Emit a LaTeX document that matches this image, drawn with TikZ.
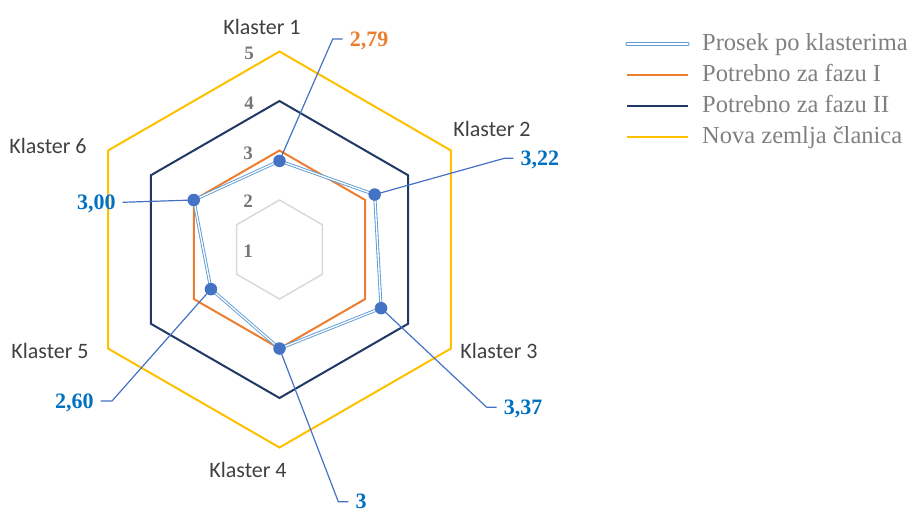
\documentclass[tikz,border=0pt]{standalone}
\usepackage{fontspec}
\setmainfont{Liberation Serif}
\newfontfamily\klfont{Carlito}
\definecolor{cyel}{HTML}{FFC000}
\definecolor{cnavy}{HTML}{203864}
\definecolor{corange}{HTML}{ED7D31}
\definecolor{cblue}{HTML}{5B9BD5}
\definecolor{cdot}{HTML}{4472C4}
\definecolor{cval}{HTML}{0070C0}
\definecolor{cgrid}{HTML}{D9D9D9}
\definecolor{ctext}{HTML}{404040}
\definecolor{caxis}{HTML}{767676}
\definecolor{clegt}{HTML}{808080}
\begin{document}
\begin{tikzpicture}[x=1pt,y=-1pt,
  gridline/.style={draw=cgrid,line width=1.5pt,line join=miter},
  yelline/.style={draw=cyel,line width=2pt,line join=miter},
  navyline/.style={draw=cnavy,line width=2pt,line join=miter},
  orline/.style={draw=corange,line width=2pt,line join=miter},
  series/.style={draw=cblue,line width=0.9pt,double=white,double distance=1.3pt,line join=round},
  leader/.style={draw=cdot,line width=1.2pt},
  dotmark/.style={circle,fill=cdot,inner sep=0pt,minimum size=12.5pt},
  kl/.style={font=\klfont\fontsize{22}{26}\selectfont,text=ctext,inner sep=0pt},
  axisnum/.style={font=\bfseries\fontsize{19}{22}\selectfont,text=caxis,inner sep=0pt},
  val/.style={font=\bfseries\fontsize{22}{25}\selectfont,text=cval,inner xsep=7pt,inner ysep=0pt,text depth=0pt},
  legt/.style={font=\fontsize{24.5}{28}\selectfont,text=clegt,inner sep=0pt,anchor=base west},
]
\useasboundingbox (0,0) rectangle (910,509);
\begin{scope}[shift={(279.5,249.5)}]
  % grid and reference hexagons
  \draw[gridline] (-90:49.5) -- (-30:49.5) -- (30:49.5) -- (90:49.5) -- (150:49.5) -- (210:49.5) -- cycle;
  \draw[yelline] (-90:198) -- (-30:198) -- (30:198) -- (90:198) -- (150:198) -- (210:198) -- cycle;
  \draw[navyline] (-90:148.5) -- (-30:148.5) -- (30:148.5) -- (90:148.5) -- (150:148.5) -- (210:148.5) -- cycle;
  \draw[orline] (-90:99) -- (-30:99) -- (30:99) -- (90:99) -- (150:99) -- (210:99) -- cycle;
  % data
  \coordinate (d1) at (-90:88.6);
  \coordinate (d2) at (-30:109.9);
  \coordinate (d3) at (30:117.3);
  \coordinate (d4) at (90:99);
  \coordinate (d5) at (150:79.2);
  \coordinate (d6) at (210:99);
  \draw[series] (d1) -- (d2) -- (d3) -- (d4) -- (d5) -- (d6) -- cycle;
\end{scope}
% axis numbers
\node[axisnum] (a5) at (249,53) {5};
\node[axisnum] (a4) at (249,103) {4};
\node[axisnum] (a3) at (248,153) {3};
\node[axisnum] (a2) at (248,201.5) {2};
\node[axisnum] (a1) at (248,251.5) {1};
% cluster labels
\node[kl] (k1) at (262,26.5) {Klaster 1};
\node[kl] (k2) at (492,129) {Klaster 2};
\node[kl] (k3) at (499,351) {Klaster 3};
\node[kl] (k4) at (248,469.5) {Klaster 4};
\node[kl] (k5) at (50,351) {Klaster 5};
\node[kl] (k6) at (48,146) {Klaster 6};
% value labels
\node[val,anchor=west,text=corange] (v1) at (342.7,39) {2,79};
\node[val,anchor=west] (v2) at (513.3,158.3) {3,22};
\node[val,anchor=west] (v3) at (496.7,407.3) {3,37};
\node[val,anchor=west] (v4) at (348.3,501.7) {3};
\node[val,anchor=east] (v5) at (100.7,401) {2,60};
\node[val,anchor=east] (v6) at (122.7,202.3) {3,00};
\coordinate (b1) at (332.7,39);
\coordinate (b2) at (504.3,158.3);
\coordinate (b3) at (486.7,407.3);
\coordinate (b4) at (338.3,501.7);
\coordinate (b5) at (112,401);
% leaders
\draw[leader] (d1) -- (b1) -- (v1.west);
\draw[leader] (d2) -- (b2) -- (v2.west);
\draw[leader] (d3) -- (b3) -- (v3.west);
\draw[leader] (d4) -- (b4) -- (v4.west);
\draw[leader] (d5) -- (b5) -- (v5.east);
\draw[leader] (d6) -- (v6.east);
% dots
\foreach \i in {1,...,6} { \node[dotmark] (p\i) at (d\i) {}; }
% legend
\node[legt] (l1) at (702,50) {Prosek po klasterima};
\node[legt] (l2) at (702,81) {Potrebno za fazu I};
\node[legt] (l3) at (702,112) {Potrebno za fazu II};
\node[legt] (l4) at (702,143) {Nova zemlja članica};
\coordinate (ls1) at (627,44); \coordinate (le1) at (688,44);
\coordinate (ls2) at (627,75); \coordinate (le2) at (688,75);
\coordinate (ls3) at (627,106); \coordinate (le3) at (688,106);
\coordinate (ls4) at (627,137); \coordinate (le4) at (688,137);
\draw[series,line cap=round] (ls1) -- (le1);
\draw[orline] (ls2) -- (le2);
\draw[navyline] (ls3) -- (le3);
\draw[yelline] (ls4) -- (le4);
\end{tikzpicture}
\end{document}
